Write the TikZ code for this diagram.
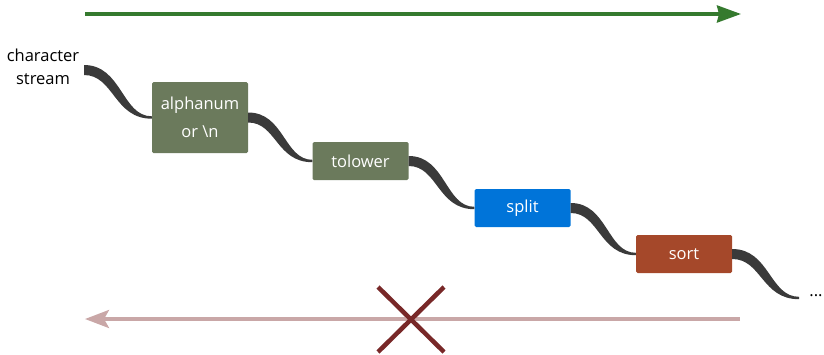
\documentclass[tikz,border=0pt]{standalone}
\usepackage{fontspec}
\setmainfont{Open Sans}
\usetikzlibrary{arrows.meta,calc}
\definecolor{olive}{RGB}{107,122,92}
\definecolor{splitblue}{RGB}{0,116,217}
\definecolor{sortred}{RGB}{165,72,42}
\definecolor{ribbon}{RGB}{58,58,58}
\definecolor{fwdgreen}{RGB}{53,122,46}
\definecolor{backpink}{RGB}{201,167,167}
\definecolor{xred}{RGB}{120,40,40}
\tikzset{
  stagebox/.style={rectangle, rounded corners=1.5pt, text=white, minimum width=96pt, minimum height=38pt, inner sep=0pt, align=center, font=\fontsize{16.5}{28}\selectfont},
  plain/.style={text=black, align=center, font=\fontsize{16.5}{23}\selectfont, inner sep=0pt},
}
\newcommand\ribbonlink[2]{%
  \fill[ribbon] let \p1=#1, \p2=#2, \n1={(\x1+\x2)/2} in
    (\x1,\y1+5pt) .. controls (\n1+4pt,\y1+5pt) and (\n1+4pt,\y2+1.2pt) .. (\x2,\y2+1.2pt)
    -- (\x2,\y2-1.2pt) .. controls (\n1-4pt,\y2-1.2pt) and (\n1-4pt,\y1-5pt) .. (\x1,\y1-5pt) -- cycle;
}
\begin{document}
\begin{tikzpicture}[x=1pt,y=-1pt]
\useasboundingbox (0,0) rectangle (824,354);
% top arrow
\coordinate (g0) at (85,14);
\coordinate (g1) at (741,14);
\draw[fwdgreen, line width=3.5pt, -{Stealth[length=24pt,width=17pt,inset=2pt]}] (g0) -- (g1);
% source text
\node[plain] (src) at (43,67) {character\\stream};
\coordinate (s0) at (84,70);
% stages
\node[stagebox, fill=olive, minimum height=71pt] (alpha) at (200,117.5) {alphanum\\or \textbackslash n};
\node[stagebox, fill=olive] (lower) at (360.5,161) {tolower};
\node[stagebox, fill=splitblue] (split) at (522.5,208) {split};
\node[stagebox, fill=sortred] (sort) at (684,254) {sort};
\node[plain] (dots) at (816,296) {...};
\coordinate (e5) at (799,298);
% ribbons
\ribbonlink{(s0)}{(alpha.west)}
\ribbonlink{(alpha.east)}{(lower.west)}
\ribbonlink{(lower.east)}{(split.west)}
\ribbonlink{(split.east)}{(sort.west)}
\ribbonlink{(sort.east)}{(e5)}
% bottom arrow
\coordinate (p0) at (740,319);
\coordinate (p1) at (85,319);
\draw[backpink, line width=3.5pt, -{Stealth[length=24pt,width=18pt,inset=5pt]}] (p0) -- (p1);
% cross
\coordinate (xa) at (378,287);
\coordinate (xb) at (444,352);
\coordinate (xc) at (378,352);
\coordinate (xd) at (444,287);
\draw[xred, line width=4.5pt] (xa) -- (xb) (xc) -- (xd);
\end{tikzpicture}
\end{document}
